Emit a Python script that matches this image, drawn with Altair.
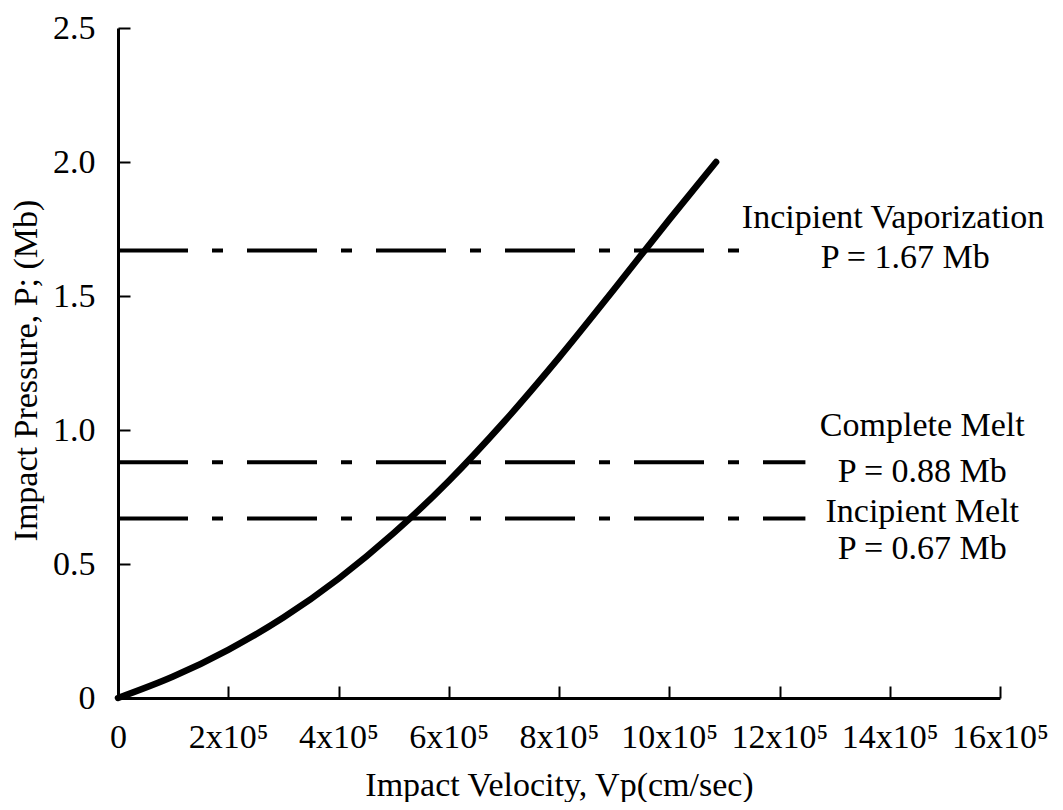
import altair as alt
import pandas as pd

# ---- data ----
velocity = [0, 1.0e5, 2.0e5, 3.0e5, 4.0e5, 5.0e5, 6.0e5, 7.0e5, 8.0e5, 9.0e5, 10.0e5, 10.85e5]
pressure = [0, 0.08, 0.18, 0.30, 0.445, 0.615, 0.81, 1.03, 1.27, 1.525, 1.785, 2.0]

level_names = ["Incipient Vaporization", "Complete Melt", "Incipient Melt"]
level_values = [1.67, 0.88, 0.67]
level_texts = ["P = 1.67 Mb", "P = 0.88 Mb", "P = 0.67 Mb"]
level_ends = [11.27e5, 12.47e5, 12.47e5]

x_ticks = [0, 2e5, 4e5, 6e5, 8e5, 10e5, 12e5, 14e5, 16e5]
y_ticks = [0, 0.5, 1.0, 1.5, 2.0, 2.5]

FONT = "Liberation Serif"
FS = 34
W, H = 882, 670

xs = alt.Scale(domain=[0, 16e5], nice=False, zero=True)
ys = alt.Scale(domain=[0, 2.5], nice=False, zero=True)

curve_df = pd.DataFrame({"v": velocity, "p": pressure})
levels_df = pd.DataFrame({
    "name": level_names,
    "p": level_values,
    "label": level_texts,
    "v0": [0] * len(level_values),
    "v1": level_ends,
})

common_axis = dict(
    labelFont=FONT, labelFontSize=FS, labelColor="black",
    titleFont=FONT, titleFontSize=FS, titleColor="black", titleFontWeight="normal",
    domainColor="black", domainWidth=3, grid=False,
    labelFlush=False, labelOverlap=False,
)

curve = alt.Chart(curve_df).mark_line(
    color="black", strokeWidth=6.5, strokeCap="round", interpolate="monotone"
).encode(
    x=alt.X("v:Q", scale=xs, axis=alt.Axis(
        values=x_ticks,
        labelExpr="datum.value == 0 ? '0' : (datum.value / 100000) + 'x10\u2075'",
        title="Impact Velocity, Vp(cm/sec)",
        ticks=False, tickSize=0, labelPadding=49, labelBaseline="alphabetic",
        titleY=97, titleBaseline="alphabetic",
        **common_axis)),
    y=alt.Y("p:Q", scale=ys, axis=alt.Axis(
        values=y_ticks,
        labelExpr="datum.value == 0 ? '0' : format(datum.value, '.1f')",
        title="Impact Pressure, P; (Mb)",
        ticks=False, tickSize=0, labelPadding=23,
        titleX=-92, titleY=342, titleAngle=270, titleBaseline="middle", titleAlign="center",
        **common_axis)),
)

# dash-dot level lines; their layer carries the inward-pointing tick axes
lines = alt.Chart(levels_df).mark_rule(
    color="black", strokeWidth=4, strokeDash=[70, 24, 11, 24]
).encode(
    x=alt.X("v0:Q", scale=xs, axis=alt.Axis(
        orient="top", offset=-H, values=x_ticks, labels=False, domain=False,
        ticks=True, tickSize=12, tickWidth=2, tickColor="black", title=None, grid=False)),
    x2="v1:Q",
    y=alt.Y("p:Q", scale=ys, axis=alt.Axis(
        orient="right", offset=-W, values=y_ticks, labels=False, domain=False,
        ticks=True, tickSize=12, tickWidth=2, tickColor="black", title=None, grid=False)),
)


def note(i, field, xpos, dy):
    return alt.Chart(levels_df.iloc[[i]]).mark_text(
        font=FONT, fontSize=FS, color="black", align="center",
        baseline="alphabetic", dy=dy
    ).encode(
        x=alt.XDatum(xpos, type="quantitative", scale=xs, axis=None),
        y=alt.Y("p:Q", scale=ys, axis=None),
        text=f"{field}:N",
    )


texts = [
    note(0, "name", 14.06e5, -22),
    note(0, "label", 14.28e5, 18),
    note(1, "name", 14.59e5, -26),
    note(1, "label", 14.59e5, 20),
    note(2, "name", 14.59e5, 4),
    note(2, "label", 14.59e5, 41),
]

chart = alt.layer(curve, lines, *texts).resolve_axis(
    x="independent", y="independent"
).properties(
    width=W, height=H,
    autosize=alt.AutoSizeParams(type="none"),
    padding={"left": 110, "top": 20, "right": 52, "bottom": 104},
    background="white",
).configure_view(stroke=None)

chart.save("out.html", embed_options={"renderer": "svg", "actions": False})
